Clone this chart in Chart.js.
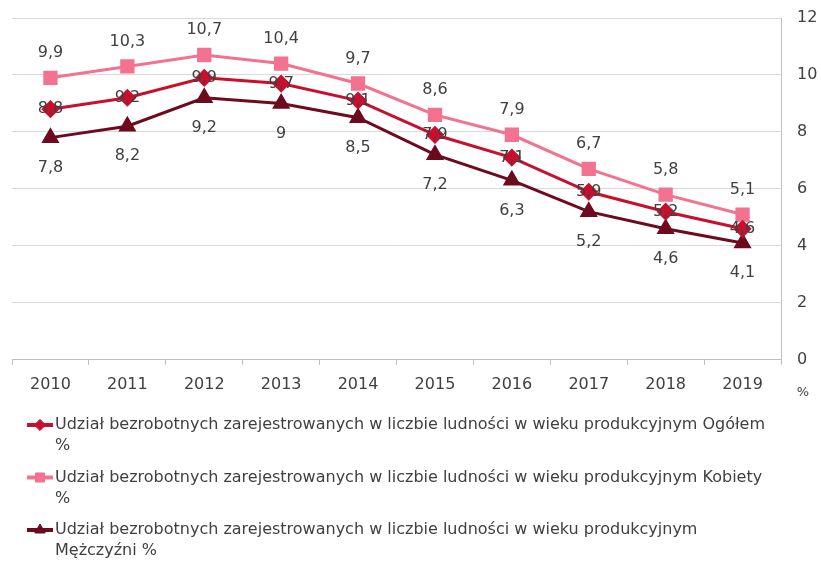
<!DOCTYPE html>
<html>
<head>
<meta charset="utf-8">
<script src="https://cdn.jsdelivr.net/npm/chart.js@4"></script>
<style>
  html, body { margin: 0; padding: 0; background: #fff; }
  #wrap { width: 821px; height: 565px; }
</style>
</head>
<body>
<div id="wrap"><canvas id="unemploymentChart"></canvas></div>
<script>
// Data (values in %)
const years = ['2010', '2011', '2012', '2013', '2014', '2015', '2016', '2017', '2018', '2019'];
const ogolem = [8.8, 9.2, 9.9, 9.7, 9.1, 7.9, 7.1, 5.9, 5.2, 4.6];
const kobiety = [9.9, 10.3, 10.7, 10.4, 9.7, 8.6, 7.9, 6.7, 5.8, 5.1];
const mezczyzni = [7.8, 8.2, 9.2, 9, 8.5, 7.2, 6.3, 5.2, 4.6, 4.1];
const yTicks = [0, 2, 4, 6, 8, 10, 12];

// Legend texts, split where the original wraps
const labelOgolem = ['Udział bezrobotnych zarejestrowanych w liczbie ludności w wieku produkcyjnym Ogółem', '%'];
const labelKobiety = ['Udział bezrobotnych zarejestrowanych w liczbie ludności w wieku produkcyjnym Kobiety', '%'];
const labelMezczyzni = ['Udział bezrobotnych zarejestrowanych w liczbie ludności w wieku produkcyjnym', 'Mężczyźni %'];

const FONT = '"DejaVu Sans", sans-serif';
const TEXT = '#404040';

// Value labels: pink above, red centred, dark below
const valueLabels = {
    id: 'valueLabels',
    afterDatasetsDraw(chart) {
        const ctx = chart.ctx;
        ctx.save();
        ctx.font = '16px ' + FONT;
        ctx.fillStyle = TEXT;
        ctx.textAlign = 'center';
        ctx.textBaseline = 'middle';
        chart.data.datasets.forEach((ds, i) => {
            const meta = chart.getDatasetMeta(i);
            meta.data.forEach((pt, j) => {
                const txt = String(ds.data[j]).replace('.', ',');
                ctx.fillText(txt, pt.x, pt.y + ds.labelOffset);
            });
        });
        ctx.restore();
    }
};

// Bottom legend with wrapped text and the "%" axis unit
const bottomLegend = {
    id: 'bottomLegend',
    afterDraw(chart) {
        const ctx = chart.ctx;
        const helpers = Chart.helpers;
        ctx.save();
        // unit under the y axis
        ctx.font = '13px ' + FONT;
        ctx.fillStyle = TEXT;
        ctx.textAlign = 'center';
        ctx.textBaseline = 'middle';
        ctx.fillText('%', chart.scales.y.left + 22, 393);

        let y = 425;
        chart.data.datasets.forEach(ds => {
            ctx.strokeStyle = ds.borderColor;
            ctx.lineWidth = 4;
            ctx.beginPath();
            ctx.moveTo(27, y);
            ctx.lineTo(53, y);
            ctx.stroke();
            ctx.fillStyle = ds.pointBackgroundColor;
            ctx.strokeStyle = ds.borderColor;
            ctx.lineWidth = 1;
            helpers.drawPoint(ctx, {
                pointStyle: ds.pointStyle,
                radius: ds.pointRadius * 0.8,
                rotation: 0,
                borderWidth: 1
            }, 40, y);

            ctx.font = '16px ' + FONT;
            ctx.fillStyle = TEXT;
            ctx.textAlign = 'left';
            ctx.textBaseline = 'middle';
            ds.label.forEach((line, k) => {
                ctx.fillText(line, 55, y + k * 21);
            });
            y += 52.5;
        });
        ctx.restore();
    }
};

const ctx = document.getElementById('unemploymentChart').getContext('2d');
const unemploymentChart = new Chart(ctx, {
    type: 'line',
    data: {
        labels: years,
        datasets: [
            {
                label: labelOgolem,
                data: ogolem,
                borderColor: '#C8102E',
                backgroundColor: '#C8102E',
                pointBackgroundColor: '#C8102E',
                pointStyle: 'rectRot',
                pointRadius: 7,
                borderWidth: 3,
                labelOffset: 0
            },
            {
                label: labelKobiety,
                data: kobiety,
                borderColor: '#F3728F',
                backgroundColor: '#F3728F',
                pointBackgroundColor: '#F3728F',
                pointStyle: 'rect',
                pointRadius: 8,
                borderWidth: 3,
                labelOffset: -25
            },
            {
                label: labelMezczyzni,
                data: mezczyzni,
                borderColor: '#6E0A1E',
                backgroundColor: '#6E0A1E',
                pointBackgroundColor: '#6E0A1E',
                pointStyle: 'triangle',
                pointRadius: 7.5,
                borderWidth: 3,
                labelOffset: 30
            }
        ]
    },
    options: {
        responsive: true,
        maintainAspectRatio: false,
        animation: false,
        layout: {
            padding: { left: 12, right: 0, top: 18, bottom: 161 }
        },
        plugins: {
            legend: { display: false },
            tooltip: { enabled: false }
        },
        scales: {
            x: {
                offset: true,
                grid: {
                    offset: true,
                    drawOnChartArea: false,
                    drawTicks: true,
                    tickLength: 5,
                    color: '#bfbfbf'
                },
                border: { display: true, color: '#bfbfbf' },
                ticks: {
                    color: TEXT,
                    padding: 10,
                    font: { family: FONT, size: 16 }
                }
            },
            y: {
                position: 'right',
                min: 0,
                max: 12,
                afterBuildTicks(scale) {
                    scale.ticks = yTicks.map(v => ({ value: v }));
                },
                afterFit(scale) {
                    scale.width = 40;
                    scale.paddingTop = 0;
                    scale.paddingBottom = 0;
                },
                grid: {
                    color: '#d9d9d9',
                    drawTicks: false
                },
                border: { display: true, color: '#bfbfbf' },
                ticks: {
                    color: TEXT,
                    padding: 16,
                    font: { family: FONT, size: 16 }
                }
            }
        }
    },
    plugins: [valueLabels, bottomLegend]
});
</script>
</body>
</html>
